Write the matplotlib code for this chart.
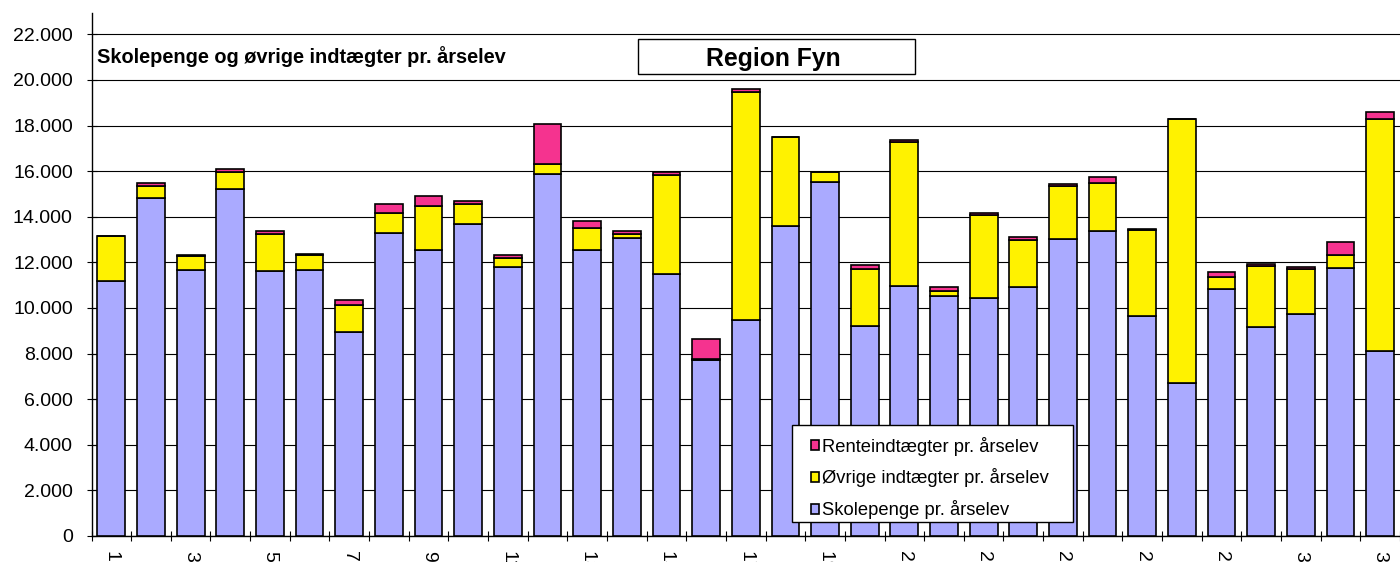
import matplotlib as mpl
import numpy as np

mpl.use("Agg")
import matplotlib.pyplot as plt  # noqa: E402
from matplotlib.patches import Patch, Rectangle  # noqa: E402
from matplotlib.ticker import FuncFormatter  # noqa: E402

# Values per school, kr. per årselev
schools = list(range(1, 34))
skolepenge = [11190, 14840, 11660, 15240, 11610, 11660, 8930, 13290, 12560, 13670,
              11800, 15890, 12560, 13090, 11480, 7700, 9470, 13600, 15530, 9200,
              10970, 10520, 10450, 10900, 13030, 13380, 9650, 6700, 10820, 9170,
              9720, 11760, 8110]
oevrige = [1960, 530, 640, 710, 1650, 680, 1200, 880, 1910, 870,
           400, 410, 950, 140, 4350, 80, 10020, 3880, 420, 2510,
           6300, 230, 3630, 2100, 2310, 2100, 3790, 11590, 540, 2680,
           1970, 580, 10180]
rente = [20, 100, 20, 130, 120, 30, 230, 380, 430, 130,
         130, 1750, 310, 150, 120, 880, 120, 30, 20, 180,
         100, 170, 100, 100, 110, 270, 20, 20, 210, 100,
         110, 540, 320]

BLUE = "#aaaaff"
YELLOW = "#fff200"
PINK = "#f5338f"

plt.rcParams.update({
    "font.family": ["Liberation Sans", "DejaVu Sans"],
    "font.size": 13,
})

W, H = 1400, 562
fig = plt.figure(figsize=(W / 100, H / 100), dpi=100)
ax = fig.add_axes([91.5 / W, (H - 536) / H, 1 - 91.5 / W, (536 - 12.7) / H])

x = np.arange(len(schools))
kw = dict(width=0.7, edgecolor="black", linewidth=1.2, zorder=3)
b1 = np.array(skolepenge)
b2 = b1 + np.array(oevrige)
ax.bar(x, skolepenge, color=BLUE, **kw)
ax.bar(x, oevrige, bottom=b1, color=YELLOW, **kw)
ax.bar(x, rente, bottom=b2, color=PINK, **kw)

ax.set_xlim(-0.5, -0.5 + (W - 91.5) / 39.8)
ax.set_ylim(0, 22950)
ax.set_yticks(np.arange(0, 22001, 2000))
ax.yaxis.set_major_formatter(FuncFormatter(lambda v, p: f"{int(v):,}".replace(",", ".")))
ax.grid(True, axis="y", color="black", lw=0.8, zorder=0)
ax.tick_params(axis="y", direction="inout", length=7, width=0.8, pad=10, labelsize=14)

ax.set_xticks(x[::2])
ax.set_xticklabels([str(s) for s in schools[::2]], rotation=270)
ax.set_xticks(np.arange(-0.5, len(schools), 1), minor=True)
ax.tick_params(axis="x", which="major", length=0, pad=11, labelsize=14)
ax.tick_params(axis="x", which="minor", direction="inout", length=7, width=0.8)

for side in ("top", "right"):
    ax.spines[side].set_visible(False)
for side in ("left", "bottom"):
    ax.spines[side].set_linewidth(1.0)

# Titles
fig.text(97 / W, (H - 63) / H, "Skolepenge og øvrige indtægter pr. årselev",
         fontsize=14.4, fontweight="bold", ha="left", va="baseline")
fig.patches.append(Rectangle((638 / W, (H - 74) / H), 277 / W, 35 / H,
                             transform=fig.transFigure, fill=True, facecolor="white",
                             edgecolor="black", lw=1.0, zorder=5))
fig.text(773.5 / W, (H - 66) / H, "Region Fyn", fontsize=17.8, fontweight="bold",
         ha="center", va="baseline", zorder=6)

# Legend: own frame, entries placed inside it
fig.patches.append(Rectangle((792 / W, (H - 522) / H), 281 / W, 97 / H,
                             transform=fig.transFigure, fill=True, facecolor="white",
                             edgecolor="black", lw=1.0, zorder=7))
handles = [Patch(facecolor=PINK, edgecolor="black", lw=1.2),
           Patch(facecolor=YELLOW, edgecolor="black", lw=1.2),
           Patch(facecolor=BLUE, edgecolor="black", lw=1.2)]
labels = ["Renteindtægter pr. årselev", "Øvrige indtægter pr. årselev",
          "Skolepenge pr. årselev"]
leg = fig.legend(handles, labels, loc="upper left",
                 bbox_to_anchor=(811 / W, (H - 436.5) / H),
                 bbox_transform=fig.transFigure, borderaxespad=0, borderpad=0,
                 fontsize=13.2, handlelength=0.42, handleheight=0.45, handletextpad=0.2,
                 labelspacing=0.7, frameon=False)
leg.set_zorder(8)

fig.savefig("out.png", dpi=100)
